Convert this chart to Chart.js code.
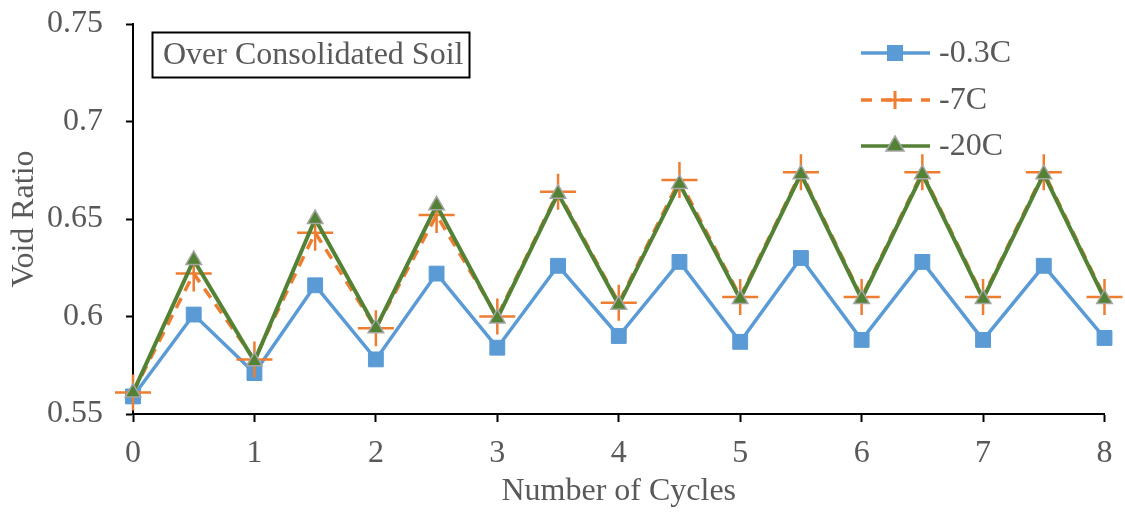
<!DOCTYPE html>
<html>
<head>
<meta charset="utf-8">
<script src="https://cdn.jsdelivr.net/npm/chart.js@4.4.1/dist/chart.umd.min.js"></script>
<style>
  html, body { margin: 0; padding: 0; background: #fff; }
  #wrap { width: 1125px; height: 514px; }
</style>
</head>
<body>
<div id="wrap"><canvas id="chart" width="1125" height="514"></canvas></div>
<script>
// Data
const cycles = [0, 0.5, 1, 1.5, 2, 2.5, 3, 3.5, 4, 4.5, 5, 5.5, 6, 6.5, 7, 7.5, 8]
const voidMinus03 = [0.559, 0.601, 0.571, 0.616, 0.578, 0.622, 0.584, 0.626, 0.590, 0.628, 0.587, 0.630, 0.588, 0.628, 0.588, 0.626, 0.589]
const voidMinus7 = [0.561, 0.622, 0.578, 0.643, 0.594, 0.652, 0.600, 0.664, 0.607, 0.670, 0.610, 0.674, 0.610, 0.674, 0.610, 0.674, 0.610]
const voidMinus20 = [0.561, 0.629, 0.577, 0.650, 0.594, 0.657, 0.599, 0.663, 0.606, 0.668, 0.609, 0.673, 0.609, 0.673, 0.609, 0.673, 0.609]
const seriesNames = ["-0.3C", "-7C", "-20C"]
const boxLabel = "Over Consolidated Soil"

const FONT = "'Liberation Serif', 'Times New Roman', serif"
const TEXT = "#595959"
const BLUE = "#5B9BD5"
const ORANGE = "#ED7D31"
const GREEN = "#548235"

Chart.defaults.font.family = FONT
Chart.defaults.color = TEXT

const toPoints = (ys) => cycles.map((x, i) => ({ x: x, y: ys[i] }))

// Small marker painter for the hand drawn legend
function drawMarker(ctx, style, x, y) {
  ctx.save()
  if (style === "rect") {
    ctx.fillStyle = BLUE
    ctx.fillRect(x - 8, y - 8, 16, 16)
  } else if (style === "cross") {
    ctx.strokeStyle = ORANGE
    ctx.lineWidth = 3
    ctx.beginPath()
    ctx.moveTo(x - 9, y); ctx.lineTo(x + 9, y)
    ctx.moveTo(x, y - 9); ctx.lineTo(x, y + 9)
    ctx.stroke()
  } else {
    ctx.fillStyle = GREEN
    ctx.strokeStyle = "#A5A5A5"
    ctx.lineWidth = 1.5
    ctx.beginPath()
    ctx.moveTo(x, y - 10)
    ctx.lineTo(x + 9, y + 5)
    ctx.lineTo(x - 9, y + 5)
    ctx.closePath()
    ctx.fill()
    ctx.stroke()
  }
  ctx.restore()
}

// Legend and the boxed label, drawn on top of the chart
const extras = {
  id: "extras",
  afterDraw(chart) {
    const ctx = chart.ctx
    ctx.save()

    // boxed label
    ctx.strokeStyle = "#000"
    ctx.lineWidth = 2
    ctx.strokeRect(152.5, 32.5, 317, 45)
    ctx.fillStyle = TEXT
    ctx.font = "32px " + FONT
    ctx.textBaseline = "middle"
    ctx.fillText(boxLabel, 163, 56)

    // legend
    const rows = [53, 100, 146]
    const colors = [BLUE, ORANGE, GREEN]
    const markers = ["rect", "cross", "triangle"]
    rows.forEach((y, i) => {
      ctx.strokeStyle = colors[i]
      ctx.lineWidth = 3.5
      ctx.setLineDash(i === 1 ? [11, 9] : [])
      ctx.beginPath()
      ctx.moveTo(861, y)
      ctx.lineTo(930, y)
      ctx.stroke()
      ctx.setLineDash([])
      drawMarker(ctx, markers[i], 895, y)
      ctx.fillStyle = TEXT
      ctx.font = "32px " + FONT
      ctx.fillText(seriesNames[i], 939, y + 1)
    })
    ctx.restore()
  },
}

new Chart(document.getElementById("chart"), {
  type: "line",
  data: {
    datasets: [
      {
        label: seriesNames[0],
        data: toPoints(voidMinus03),
        borderColor: BLUE,
        borderWidth: 3.5,
        pointStyle: "rect",
        pointRadius: 10.5,
        pointBackgroundColor: BLUE,
        pointBorderColor: BLUE,
        pointBorderWidth: 1,
        order: 2,
        clip: false,
      },
      {
        label: seriesNames[1],
        data: toPoints(voidMinus7),
        borderColor: ORANGE,
        borderWidth: 3.5,
        borderDash: [11, 8],
        pointStyle: "cross",
        pointRadius: 18,
        pointBorderColor: ORANGE,
        pointBorderWidth: 2.5,
        order: 1,
        clip: false,
      },
      {
        label: seriesNames[2],
        data: toPoints(voidMinus20),
        borderColor: GREEN,
        borderWidth: 4,
        pointStyle: "triangle",
        pointRadius: 9,
        pointBackgroundColor: GREEN,
        pointBorderColor: "#A5A5A5",
        pointBorderWidth: 1.5,
        order: 0,
        clip: false,
      },
    ],
  },
  options: {
    responsive: false,
    animation: false,
    layout: { padding: { left: 0, top: 24, right: 19, bottom: 0 } },
    plugins: {
      legend: { display: false },
      tooltip: { enabled: false },
    },
    scales: {
      x: {
        type: "linear",
        min: 0,
        max: 8,
        ticks: { stepSize: 1, padding: 12, color: TEXT, font: { size: 32 } },
        grid: { drawOnChartArea: false, tickLength: 8, tickColor: "#000", tickWidth: 2 },
        border: { color: "#000", width: 2 },
        title: { display: true, text: "Number of Cycles", color: TEXT, font: { size: 32 }, padding: { top: 0, bottom: 3 } },
        afterFit(scale) {
          scale.height = 100
          scale.paddingLeft = 0
          scale.paddingRight = 0
        },
      },
      y: {
        min: 0.55,
        max: 0.75,
        ticks: {
          stepSize: 0.05,
          padding: 23,
          color: TEXT,
          font: { size: 32 },
          callback: (v) => String(Number(v.toFixed(2))),
        },
        grid: { drawOnChartArea: false, tickLength: 7, tickColor: "#000", tickWidth: 2 },
        border: { color: "#000", width: 2 },
        title: { display: true, text: "Void Ratio", color: TEXT, font: { size: 32 }, padding: { top: 5, bottom: 0 } },
        afterFit(scale) {
          scale.width = 133
          scale.paddingTop = 0
          scale.paddingBottom = 0
        },
      },
    },
  },
  plugins: [extras],
})
</script>
</body>
</html>
